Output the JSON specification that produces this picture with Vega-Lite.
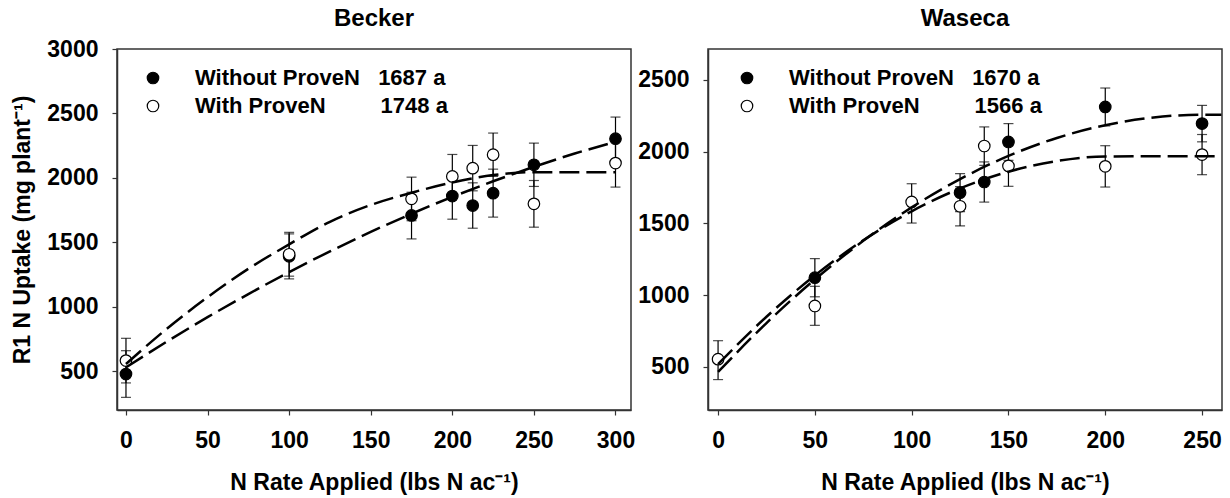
{
  "$schema": "https://vega.github.io/schema/vega-lite/v6.json",
  "padding": {"left": 11, "top": 6, "right": 5, "bottom": 5},
  "spacing": 1,
  "config": {
    "font": "Liberation Sans",
    "view": {"stroke": "#333", "strokeWidth": 1.5},
    "title": {"fontSize": 24, "fontWeight": "bold", "color": "black", "offset": 7, "anchor": "middle"},
    "axis": {
      "grid": false,
      "domainColor": "#333", "domainWidth": 1.5,
      "tickColor": "#333", "tickWidth": 1.2, "tickSize": 5,
      "labelFontSize": 23, "labelFontWeight": "bold", "labelColor": "black",
      "titleFontSize": 23, "titleFontWeight": "bold", "titleColor": "black"
    },
    "axisX": {"labelPadding": 14, "titlePadding": 19},
    "axisY": {"labelPadding": 14, "titlePadding": 12, "format": "d"}
  },
  "datasets": {
    "pts": [
      {"site": "Becker", "N": 0, "trt": "Without ProveN", "y": 479, "lo": 298, "hi": 660},
      {"site": "Becker", "N": 100, "trt": "Without ProveN", "y": 1392, "lo": 1217, "hi": 1566},
      {"site": "Becker", "N": 175, "trt": "Without ProveN", "y": 1709, "lo": 1527, "hi": 1889},
      {"site": "Becker", "N": 200, "trt": "Without ProveN", "y": 1859, "lo": 1680, "hi": 2040},
      {"site": "Becker", "N": 212.5, "trt": "Without ProveN", "y": 1786, "lo": 1610, "hi": 1962},
      {"site": "Becker", "N": 225, "trt": "Without ProveN", "y": 1882, "lo": 1696, "hi": 2068},
      {"site": "Becker", "N": 250, "trt": "Without ProveN", "y": 2102, "lo": 1934, "hi": 2270},
      {"site": "Becker", "N": 300, "trt": "Without ProveN", "y": 2304, "lo": 2136, "hi": 2472},
      {"site": "Becker", "N": 0, "trt": "With ProveN", "y": 583, "lo": 410, "hi": 756},
      {"site": "Becker", "N": 100, "trt": "With ProveN", "y": 1408, "lo": 1238, "hi": 1578},
      {"site": "Becker", "N": 175, "trt": "With ProveN", "y": 1838, "lo": 1668, "hi": 2006},
      {"site": "Becker", "N": 200, "trt": "With ProveN", "y": 2012, "lo": 1842, "hi": 2182},
      {"site": "Becker", "N": 212.5, "trt": "With ProveN", "y": 2076, "lo": 1900, "hi": 2252},
      {"site": "Becker", "N": 225, "trt": "With ProveN", "y": 2180, "lo": 2012, "hi": 2348},
      {"site": "Becker", "N": 250, "trt": "With ProveN", "y": 1799, "lo": 1618, "hi": 1980},
      {"site": "Becker", "N": 300, "trt": "With ProveN", "y": 2115, "lo": 1929, "hi": 2300},
      {"site": "Waseca", "N": 50, "trt": "Without ProveN", "y": 1122, "lo": 989, "hi": 1255},
      {"site": "Waseca", "N": 125, "trt": "Without ProveN", "y": 1715, "lo": 1583, "hi": 1847},
      {"site": "Waseca", "N": 137.5, "trt": "Without ProveN", "y": 1789, "lo": 1649, "hi": 1929},
      {"site": "Waseca", "N": 150, "trt": "Without ProveN", "y": 2068, "lo": 1940, "hi": 2196},
      {"site": "Waseca", "N": 200, "trt": "Without ProveN", "y": 2312, "lo": 2180, "hi": 2444},
      {"site": "Waseca", "N": 250, "trt": "Without ProveN", "y": 2196, "lo": 2069, "hi": 2323},
      {"site": "Waseca", "N": 0, "trt": "With ProveN", "y": 554, "lo": 412, "hi": 683},
      {"site": "Waseca", "N": 50, "trt": "With ProveN", "y": 925, "lo": 790, "hi": 1062},
      {"site": "Waseca", "N": 100, "trt": "With ProveN", "y": 1650, "lo": 1503, "hi": 1777},
      {"site": "Waseca", "N": 125, "trt": "With ProveN", "y": 1620, "lo": 1483, "hi": 1757},
      {"site": "Waseca", "N": 137.5, "trt": "With ProveN", "y": 2040, "lo": 1905, "hi": 2173},
      {"site": "Waseca", "N": 150, "trt": "With ProveN", "y": 1901, "lo": 1759, "hi": 2043},
      {"site": "Waseca", "N": 200, "trt": "With ProveN", "y": 1898, "lo": 1754, "hi": 2042},
      {"site": "Waseca", "N": 250, "trt": "With ProveN", "y": 1980, "lo": 1840, "hi": 2120}
    ],
    "fits": [
      {"site": "Becker", "trt": "With ProveN", "N": 0, "fit": 557},
      {"site": "Becker", "trt": "With ProveN", "N": 25, "fit": 830},
      {"site": "Becker", "trt": "With ProveN", "N": 50, "fit": 1075},
      {"site": "Becker", "trt": "With ProveN", "N": 75, "fit": 1295},
      {"site": "Becker", "trt": "With ProveN", "N": 100, "fit": 1485},
      {"site": "Becker", "trt": "With ProveN", "N": 125, "fit": 1660},
      {"site": "Becker", "trt": "With ProveN", "N": 150, "fit": 1790},
      {"site": "Becker", "trt": "With ProveN", "N": 175, "fit": 1885},
      {"site": "Becker", "trt": "With ProveN", "N": 200, "fit": 1965},
      {"site": "Becker", "trt": "With ProveN", "N": 225, "fit": 2022},
      {"site": "Becker", "trt": "With ProveN", "N": 250, "fit": 2045},
      {"site": "Becker", "trt": "With ProveN", "N": 300, "fit": 2045},
      {"site": "Becker", "trt": "Without ProveN", "N": 0, "fit": 531},
      {"site": "Becker", "trt": "Without ProveN", "N": 25, "fit": 730},
      {"site": "Becker", "trt": "Without ProveN", "N": 50, "fit": 920},
      {"site": "Becker", "trt": "Without ProveN", "N": 75, "fit": 1099},
      {"site": "Becker", "trt": "Without ProveN", "N": 100, "fit": 1270},
      {"site": "Becker", "trt": "Without ProveN", "N": 125, "fit": 1430},
      {"site": "Becker", "trt": "Without ProveN", "N": 150, "fit": 1581},
      {"site": "Becker", "trt": "Without ProveN", "N": 175, "fit": 1722},
      {"site": "Becker", "trt": "Without ProveN", "N": 200, "fit": 1853},
      {"site": "Becker", "trt": "Without ProveN", "N": 225, "fit": 1974},
      {"site": "Becker", "trt": "Without ProveN", "N": 250, "fit": 2086},
      {"site": "Becker", "trt": "Without ProveN", "N": 275, "fit": 2189},
      {"site": "Becker", "trt": "Without ProveN", "N": 300, "fit": 2280},
      {"site": "Waseca", "trt": "With ProveN", "N": 0, "fit": 520},
      {"site": "Waseca", "trt": "With ProveN", "N": 25, "fit": 850},
      {"site": "Waseca", "trt": "With ProveN", "N": 50, "fit": 1138},
      {"site": "Waseca", "trt": "With ProveN", "N": 75, "fit": 1383},
      {"site": "Waseca", "trt": "With ProveN", "N": 100, "fit": 1585},
      {"site": "Waseca", "trt": "With ProveN", "N": 125, "fit": 1744},
      {"site": "Waseca", "trt": "With ProveN", "N": 150, "fit": 1861},
      {"site": "Waseca", "trt": "With ProveN", "N": 175, "fit": 1935},
      {"site": "Waseca", "trt": "With ProveN", "N": 200, "fit": 1967},
      {"site": "Waseca", "trt": "With ProveN", "N": 225, "fit": 1968},
      {"site": "Waseca", "trt": "With ProveN", "N": 260, "fit": 1968},
      {"site": "Waseca", "trt": "Without ProveN", "N": 0, "fit": 465},
      {"site": "Waseca", "trt": "Without ProveN", "N": 25, "fit": 806},
      {"site": "Waseca", "trt": "Without ProveN", "N": 50, "fit": 1110},
      {"site": "Waseca", "trt": "Without ProveN", "N": 75, "fit": 1379},
      {"site": "Waseca", "trt": "Without ProveN", "N": 100, "fit": 1612},
      {"site": "Waseca", "trt": "Without ProveN", "N": 125, "fit": 1809},
      {"site": "Waseca", "trt": "Without ProveN", "N": 150, "fit": 1971},
      {"site": "Waseca", "trt": "Without ProveN", "N": 175, "fit": 2096},
      {"site": "Waseca", "trt": "Without ProveN", "N": 200, "fit": 2185},
      {"site": "Waseca", "trt": "Without ProveN", "N": 225, "fit": 2239},
      {"site": "Waseca", "trt": "Without ProveN", "N": 250, "fit": 2258},
      {"site": "Waseca", "trt": "Without ProveN", "N": 260, "fit": 2258}
    ]
  },
  "resolve": {"scale": {"fill": "independent"}, "legend": {"fill": "independent"}},
  "hconcat": [
    {
      "title": {"text": "Becker", "offset": 7},
      "width": 514,
      "height": 361,
      "layer": [
        {
          "data": {"name": "pts"},
          "transform": [{"filter": "datum.site == 'Becker'"}],
          "mark": {"type": "rule", "color": "black", "strokeWidth": 1.2},
          "encoding": {
            "x": {"field": "N", "type": "quantitative", "scale": {"domain": [-5.5, 309.5], "nice": false, "zero": false}, "axis": {"values": [0, 50, 100, 150, 200, 250, 300]}, "title": "N Rate Applied (lbs N ac⁻¹)"},
            "y": {"field": "lo", "type": "quantitative", "scale": {"domain": [200, 3000], "nice": false, "zero": false}, "axis": {"values": [500, 1000, 1500, 2000, 2500, 3000]}, "title": "R1 N Uptake (mg plant⁻¹)"},
            "y2": {"field": "hi"}
          }
        },
        {
          "data": {"name": "pts"},
          "transform": [{"filter": "datum.site == 'Becker'"}],
          "mark": {"type": "tick", "orient": "horizontal", "color": "black", "size": 10, "thickness": 1.2},
          "encoding": {
            "x": {"field": "N", "type": "quantitative", "title": "N Rate Applied (lbs N ac⁻¹)"},
            "y": {"field": "lo", "type": "quantitative", "title": "R1 N Uptake (mg plant⁻¹)"}
          }
        },
        {
          "data": {"name": "pts"},
          "transform": [{"filter": "datum.site == 'Becker'"}],
          "mark": {"type": "tick", "orient": "horizontal", "color": "black", "size": 10, "thickness": 1.2},
          "encoding": {
            "x": {"field": "N", "type": "quantitative", "title": "N Rate Applied (lbs N ac⁻¹)"},
            "y": {"field": "hi", "type": "quantitative", "title": "R1 N Uptake (mg plant⁻¹)"}
          }
        },
        {
          "data": {"name": "pts"},
          "transform": [{"filter": "datum.site == 'Becker'"}],
          "mark": {"type": "point", "shape": "circle", "filled": true, "stroke": "black", "strokeWidth": 1.2, "size": 133, "opacity": 1},
          "encoding": {
            "x": {"field": "N", "type": "quantitative", "title": "N Rate Applied (lbs N ac⁻¹)"},
            "y": {"field": "y", "type": "quantitative", "title": "R1 N Uptake (mg plant⁻¹)"},
            "fill": {
              "field": "trt", "type": "nominal",
              "scale": {"domain": ["Without ProveN", "With ProveN"], "range": ["black", "white"]},
              "legend": {
                "orient": "none", "legendX": 25, "legendY": 18, "title": null,
                "labelExpr": "datum.label == 'Without ProveN' ? 'Without ProveN\u00a0\u00a0\u00a01687 a' : 'With ProveN\u00a0\u00a0\u00a0\u00a0\u00a0\u00a0\u00a0\u00a0\u00a01748 a'",
                "symbolType": "circle", "symbolSize": 133, "symbolStrokeColor": "black", "symbolStrokeWidth": 1.2,
                "labelFontSize": 22, "labelFontWeight": "bold", "labelColor": "black", "labelOffset": 31, "rowPadding": 6, "labelLimit": 400
              }
            }
          }
        },
        {
          "data": {"name": "fits"},
          "transform": [{"filter": "datum.site == 'Becker'"}],
          "mark": {"type": "line", "color": "black", "strokeWidth": 2.5, "strokeDash": [20, 7], "interpolate": "monotone", "clip": true},
          "encoding": {
            "x": {"field": "N", "type": "quantitative", "title": "N Rate Applied (lbs N ac⁻¹)"},
            "y": {"field": "fit", "type": "quantitative", "title": "R1 N Uptake (mg plant⁻¹)"},
            "detail": {"field": "trt", "type": "nominal"}
          }
        }
      ]
    },
    {
      "title": {"text": "Waseca", "offset": 18},
      "width": 514,
      "height": 361,
      "layer": [
        {
          "data": {"name": "pts"},
          "transform": [{"filter": "datum.site == 'Waseca'"}],
          "mark": {"type": "rule", "color": "black", "strokeWidth": 1.2},
          "encoding": {
            "x": {"field": "N", "type": "quantitative", "scale": {"domain": [-5.2, 260.3], "nice": false, "zero": false}, "axis": {"values": [0, 50, 100, 150, 200, 250]}, "title": "N Rate Applied (lbs N ac⁻¹)"},
            "y": {"field": "lo", "type": "quantitative", "scale": {"domain": [200, 2716], "nice": false, "zero": false}, "axis": {"values": [500, 1000, 1500, 2000, 2500]}, "title": null},
            "y2": {"field": "hi"}
          }
        },
        {
          "data": {"name": "pts"},
          "transform": [{"filter": "datum.site == 'Waseca'"}],
          "mark": {"type": "tick", "orient": "horizontal", "color": "black", "size": 10, "thickness": 1.2},
          "encoding": {
            "x": {"field": "N", "type": "quantitative", "title": "N Rate Applied (lbs N ac⁻¹)"},
            "y": {"field": "lo", "type": "quantitative", "title": null}
          }
        },
        {
          "data": {"name": "pts"},
          "transform": [{"filter": "datum.site == 'Waseca'"}],
          "mark": {"type": "tick", "orient": "horizontal", "color": "black", "size": 10, "thickness": 1.2},
          "encoding": {
            "x": {"field": "N", "type": "quantitative", "title": "N Rate Applied (lbs N ac⁻¹)"},
            "y": {"field": "hi", "type": "quantitative", "title": null}
          }
        },
        {
          "data": {"name": "pts"},
          "transform": [{"filter": "datum.site == 'Waseca'"}],
          "mark": {"type": "point", "shape": "circle", "filled": true, "stroke": "black", "strokeWidth": 1.2, "size": 133, "opacity": 1},
          "encoding": {
            "x": {"field": "N", "type": "quantitative", "title": "N Rate Applied (lbs N ac⁻¹)"},
            "y": {"field": "y", "type": "quantitative", "title": null},
            "fill": {
              "field": "trt", "type": "nominal",
              "scale": {"domain": ["Without ProveN", "With ProveN"], "range": ["black", "white"]},
              "legend": {
                "orient": "none", "legendX": 28, "legendY": 18, "title": null,
                "labelExpr": "datum.label == 'Without ProveN' ? 'Without ProveN\u00a0\u00a0\u00a01670 a' : 'With ProveN\u00a0\u00a0\u00a0\u00a0\u00a0\u00a0\u00a0\u00a0\u00a01566 a'",
                "symbolType": "circle", "symbolSize": 133, "symbolStrokeColor": "black", "symbolStrokeWidth": 1.2,
                "labelFontSize": 22, "labelFontWeight": "bold", "labelColor": "black", "labelOffset": 31, "rowPadding": 6, "labelLimit": 400
              }
            }
          }
        },
        {
          "data": {"name": "fits"},
          "transform": [{"filter": "datum.site == 'Waseca'"}],
          "mark": {"type": "line", "color": "black", "strokeWidth": 2.5, "strokeDash": [20, 7], "interpolate": "monotone", "clip": true},
          "encoding": {
            "x": {"field": "N", "type": "quantitative", "title": "N Rate Applied (lbs N ac⁻¹)"},
            "y": {"field": "fit", "type": "quantitative", "title": null},
            "detail": {"field": "trt", "type": "nominal"}
          }
        }
      ]
    }
  ]
}
